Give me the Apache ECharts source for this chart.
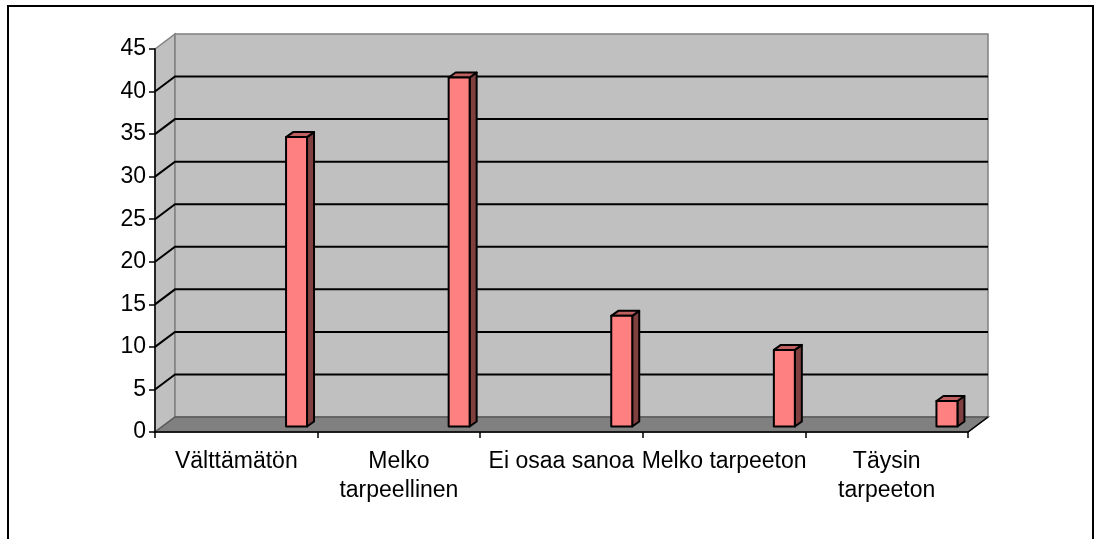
<!DOCTYPE html>
<html>
<head>
<meta charset="utf-8">
<script src="https://cdn.jsdelivr.net/npm/echarts@6/dist/echarts.min.js"></script>
<style>
html,body{margin:0;padding:0;background:#fff;}
#chart{width:1094px;height:539px;}
</style>
</head>
<body>
<div id="chart"></div>
<script>
// ---- data ----
const categories = ['Välttämätön', 'Melko\ntarpeellinen', 'Ei osaa sanoa', 'Melko tarpeeton', 'Täysin\ntarpeeton'];
const values = [34, 41, 13, 9, 3];
const yTicks = [0, 5, 10, 15, 20, 25, 30, 35, 40, 45];

// ---- styling (3D look) ----
const FONT = "'Liberation Sans', Arial, sans-serif";
const DEPTH_X = 20, DEPTH_Y = -15;         // wall depth offset in px
const BAR_DY = -5.5;                       // bar front plane offset
const BAR_DEPTH_X = 7, BAR_DEPTH_Y = -5;   // bar depth
const BAR_OFFSET = 0.306, BAR_WIDTH = 0.129; // relative to band width

const chart = echarts.init(document.getElementById('chart'), null, {renderer: 'canvas'});

function wallsRender(params, api) {
  const bw = api.size([1, 0])[0];
  const first = api.coord([0, 0]);
  const last = api.coord([categories.length - 1, 0]);
  const xl = first[0] - bw / 2, xr = last[0] + bw / 2;
  const y0 = first[1];
  const yTop = api.coord([0, yTicks[yTicks.length - 1]])[1];
  const children = [];
  // side wall
  children.push({type: 'polygon', shape: {points: [[xl, yTop], [xl + DEPTH_X, yTop + DEPTH_Y], [xl + DEPTH_X, y0 + DEPTH_Y], [xl, y0]]},
    style: {fill: '#c0c0c0', stroke: '#808080', lineWidth: 1.5}});
  // back wall
  children.push({type: 'polygon', shape: {points: [[xl + DEPTH_X, yTop + DEPTH_Y], [xr + DEPTH_X, yTop + DEPTH_Y], [xr + DEPTH_X, y0 + DEPTH_Y], [xl + DEPTH_X, y0 + DEPTH_Y]]},
    style: {fill: '#c0c0c0', stroke: '#808080', lineWidth: 1.5}});
  // gridlines
  yTicks.forEach(function (t) {
    if (t === 0 || t === yTicks[yTicks.length - 1]) return;
    const y = api.coord([0, t])[1];
    children.push({type: 'polyline', shape: {points: [[xl, y], [xl + DEPTH_X, y + DEPTH_Y], [xr + DEPTH_X, y + DEPTH_Y]]},
      style: {fill: null, stroke: '#000', lineWidth: 2}});
  });
  // floor
  children.push({type: 'polygon', shape: {points: [[xl, y0], [xr, y0], [xr + DEPTH_X, y0 + DEPTH_Y], [xl + DEPTH_X, y0 + DEPTH_Y]]},
    style: {fill: '#808080', stroke: '#5a5a5a', lineWidth: 1.5}});
  children.push({type: 'line', shape: {x1: xr, y1: y0, x2: xr + DEPTH_X, y2: y0 + DEPTH_Y}, style: {stroke: '#000', lineWidth: 1.5}});
  return {type: 'group', children: children};
}

function barRender(params, api) {
  const idx = api.value(0);
  const v = api.value(1);
  const bw = api.size([1, 0])[0];
  const base = api.coord([idx, 0]);
  const top = api.coord([idx, v]);
  const x0 = base[0] + BAR_OFFSET * bw;
  const x1 = x0 + BAR_WIDTH * bw;
  const yb = base[1] + BAR_DY;
  const yt = top[1] + BAR_DY;
  const st = {stroke: '#000', lineWidth: 2, lineJoin: 'round'};
  return {type: 'group', children: [
    {type: 'polygon', shape: {points: [[x1, yt], [x1 + BAR_DEPTH_X, yt + BAR_DEPTH_Y], [x1 + BAR_DEPTH_X, yb + BAR_DEPTH_Y], [x1, yb]]},
      style: Object.assign({fill: '#804040'}, st)},
    {type: 'polygon', shape: {points: [[x0, yt], [x0 + BAR_DEPTH_X, yt + BAR_DEPTH_Y], [x1 + BAR_DEPTH_X, yt + BAR_DEPTH_Y], [x1, yt]]},
      style: Object.assign({fill: '#c06060'}, st)},
    {type: 'polygon', shape: {points: [[x0, yt], [x1, yt], [x1, yb], [x0, yb]]},
      style: Object.assign({fill: '#ff8080'}, st)}
  ]};
}

const option = {
  animation: false,
  backgroundColor: '#fff',
  textStyle: {fontFamily: FONT},
  grid: {left: 155, top: 49, right: 126, bottom: 107},
  graphic: [{type: 'rect', shape: {x: 8, y: 6, width: 1085, height: 545}, style: {fill: null, stroke: '#000', lineWidth: 2}, z: 100}],
  xAxis: {
    type: 'category', data: categories, boundaryGap: true,
    axisLine: {lineStyle: {color: '#000', width: 1.5}},
    axisTick: {show: true, length: 6, lineStyle: {color: '#000', width: 1.5}},
    axisLabel: {interval: 0, color: '#000', fontSize: 23, lineHeight: 29, fontFamily: FONT, margin: 15},
    splitLine: {show: false}
  },
  yAxis: {
    type: 'value', min: 0, max: 45, interval: 5,
    axisLine: {show: true, lineStyle: {color: '#000', width: 1.5}},
    axisTick: {show: true, length: 6, lineStyle: {color: '#000', width: 1.5}},
    axisLabel: {color: '#000', fontSize: 23, fontFamily: FONT, margin: 9},
    splitLine: {show: false}
  },
  series: [
    {type: 'custom', z: -1, silent: true, renderItem: wallsRender, data: [[0, 0]]},
    {type: 'custom', z: 3, renderItem: barRender, data: values.map(function (v, i) { return [i, v]; })}
  ]
};
chart.setOption(option);
</script>
</body>
</html>
